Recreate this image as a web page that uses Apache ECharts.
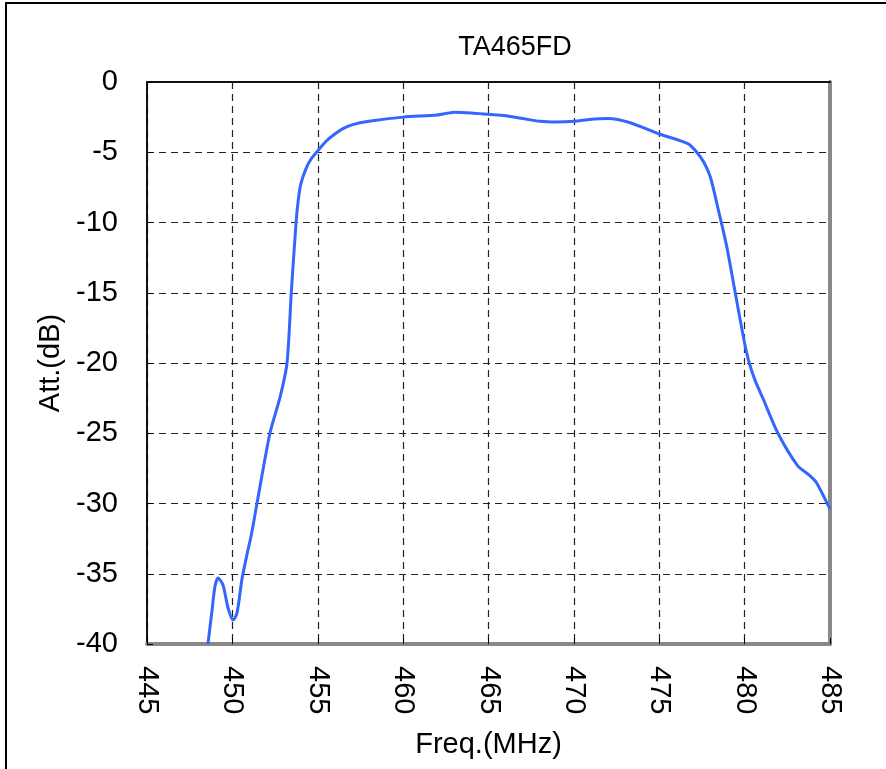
<!DOCTYPE html>
<html><head><meta charset="utf-8">
<script src="https://cdn.jsdelivr.net/npm/echarts@6/dist/echarts.min.js"></script>
<style>html,body{margin:0;padding:0;background:#fff}#c{width:886px;height:769px}</style>
</head><body><div id="c"></div>
<script>
const titleText = "TA465FD";
const xName = "Freq.(MHz)";
const yName = "Att.(dB)";
const freq = [448.57, 448.81, 448.98, 449.16, 449.45, 449.74, 450.04, 450.27, 450.56, 450.86, 451.1, 451.44, 452.2, 452.8, 453.2, 453.45, 453.73, 453.85, 454.0, 454.3, 454.6, 455.0, 455.5, 456.0, 456.5, 457.0, 458.0, 460.0, 462.0, 463.0, 464.0, 465.0, 466.0, 467.0, 468.0, 469.0, 470.0, 471.0, 472.0, 473.3, 475.0, 476.7, 477.2, 477.6, 478.0, 478.46, 478.95, 479.45, 479.75, 480.0, 480.25, 480.6, 481.1, 481.95, 483.1, 483.8, 484.2, 485.0];
const att  = [-40.0, -37.6, -35.9, -35.3, -35.8, -37.4, -38.3, -37.8, -35.4, -33.6, -32.3, -30.0, -25.0, -22.4, -20.0, -15.0, -10.0, -8.5, -7.3, -6.2, -5.5, -4.9, -4.2, -3.7, -3.3, -3.05, -2.8, -2.5, -2.35, -2.15, -2.2, -2.3, -2.4, -2.6, -2.8, -2.85, -2.8, -2.65, -2.6, -2.9, -3.7, -4.4, -5.0, -5.7, -6.8, -9.1, -11.7, -15.0, -17.0, -18.6, -19.9, -21.2, -22.6, -25.0, -27.3, -28.0, -28.5, -30.4];
const xMin = 445, xMax = 485, xStep = 5;
const yMin = -40, yMax = 0, yStep = 5;

const chart = echarts.init(document.getElementById('c'));
const font = 'Liberation Sans, Arial, sans-serif';
const dashed = {show:true, lineStyle:{color:'#222', type:[7,5], width:1.2}};
chart.setOption({
  animation:false,
  title:{text:titleText, left:510, top:29, textAlign:'center', textStyle:{fontFamily:font, fontSize:27, fontWeight:'normal', color:'#000'}},
  graphic:[{type:'rect', shape:{x:6, y:3, width:900, height:800}, style:{fill:'none', stroke:'#000', lineWidth:2}, silent:true}],
  grid:{left:147, right:56, top:82, bottom:125},
  xAxis:[{
    type:'value', min:xMin, max:xMax, interval:xStep, position:'bottom',
    axisLine:{show:true, onZero:false, lineStyle:{color:'#888', width:4}},
    name:xName, nameLocation:'middle', nameGap:86,
    nameTextStyle:{fontFamily:font, fontSize:29, color:'#000'},
    axisTick:{show:true, inside:true, length:6, lineStyle:{color:'#000'}},
    axisLabel:{rotate:-90, margin:22, fontFamily:font, fontSize:29, color:'#000'},
    splitLine:dashed
  },{
    type:'value', min:xMin, max:xMax, interval:xStep, position:'top',
    axisLine:{show:true, onZero:false, lineStyle:{color:'#111', width:2}},
    axisTick:{show:false}, axisLabel:{show:false}, splitLine:{show:false}
  }],
  yAxis:[{
    type:'value', min:yMin, max:yMax, interval:yStep, position:'left',
    name:yName, nameLocation:'middle', nameGap:81, nameRotate:90,
    nameTextStyle:{fontFamily:font, fontSize:29, color:'#000'},
    axisLine:{show:true, onZero:false, lineStyle:{color:'#111', width:2}},
    axisTick:{show:true, inside:true, length:6, lineStyle:{color:'#000'}},
    axisLabel:{margin:29, fontFamily:font, fontSize:29, color:'#000'},
    splitLine:dashed
  },{
    type:'value', min:yMin, max:yMax, interval:yStep, position:'right',
    axisLine:{show:true, onZero:false, lineStyle:{color:'#888', width:4}},
    axisTick:{show:false}, axisLabel:{show:false}, splitLine:{show:false}
  }],
  series:[{
    type:'line', xAxisIndex:0, yAxisIndex:0,
    data:freq.map((f,i)=>[f, att[i]]),
    showSymbol:false, smooth:0.25,
    lineStyle:{color:'#3366ff', width:3}
  }]
});
</script></body></html>
